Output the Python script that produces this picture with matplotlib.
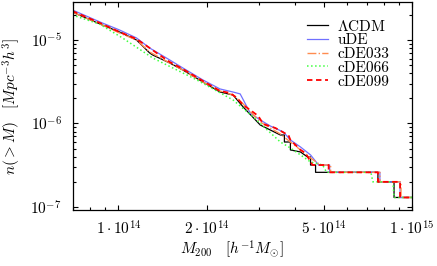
import matplotlib
matplotlib.use("Agg")
import matplotlib.pyplot as plt
from matplotlib.ticker import FixedLocator, NullFormatter

plt.rcParams['font.family'] = 'serif'
plt.rcParams['font.serif'] = ['cmr10', 'DejaVu Serif']
plt.rcParams['mathtext.fontset'] = 'cm'
plt.rcParams['axes.formatter.use_mathtext'] = True
plt.rcParams['font.size'] = 11

# ---- data ----
lcdm_M = [6.96e13, 8.81e13, 1.008e14, 1.152e14, 1.277e14, 1.308e14, 1.495e14, 1.657e14, 1.939e14,
          2.218e14, 2.457e14, 2.659e14, 3.04e14, 3.559e14, 3.674e14, 3.674e14, 3.851e14, 3.851e14,
          4.168e14, 4.404e14, 4.51e14, 4.51e14, 4.691e14, 4.691e14, 7.65e14, 7.65e14, 8.68e14,
          8.68e14, 1.0e15]
lcdm_n = [2.16e-5, 1.512e-5, 1.247e-5, 1.0e-5, 6.99e-6, 6.61e-6, 5.30e-6, 4.37e-6, 3.14e-6,
          2.38e-6, 2.19e-6, 1.576e-6, 9.59e-7, 7.28e-7, 7.28e-7, 6.0e-7, 6.0e-7, 4.82e-7,
          4.56e-7, 3.97e-7, 3.97e-7, 3.18e-7, 3.18e-7, 2.6e-7, 2.6e-7, 2.0e-7, 2.0e-7,
          1.3e-7, 1.3e-7]

ude_M = [6.96e13, 8.81e13, 1.008e14, 1.152e14, 1.277e14, 1.495e14, 1.657e14, 1.939e14, 2.218e14,
         2.457e14, 2.597e14, 2.81e14, 3.04e14, 3.289e14, 3.644e14, 3.851e14, 4.168e14, 4.51e14,
         4.803e14, 5.24e14, 5.24e14, 7.77e14, 7.77e14, 9.10e14, 9.10e14, 1.0e15]
ude_n = [2.29e-5, 1.598e-5, 1.318e-5, 1.057e-5, 8.02e-6, 5.76e-6, 4.62e-6, 3.32e-6, 2.59e-6,
         2.38e-6, 2.26e-6, 1.335e-6, 1.101e-6, 9.33e-7, 7.91e-7, 6.34e-7, 5.23e-7, 4.20e-7,
         3.18e-7, 3.18e-7, 2.6e-7, 2.6e-7, 2.0e-7, 2.0e-7, 1.3e-7, 1.3e-7]

cde033_M = [6.96e13, 8.81e13, 1.008e14, 1.152e14, 1.277e14, 1.495e14, 1.657e14, 1.939e14, 2.218e14,
            2.457e14, 2.659e14, 3.04e14, 3.559e14, 3.851e14, 4.168e14, 4.51e14, 4.88e14, 5.28e14,
            5.28e14, 7.77e14, 7.77e14, 9.17e14, 9.17e14, 1.0e15]
cde033_n = [2.16e-5, 1.512e-5, 1.213e-5, 1.0e-5, 7.18e-6, 5.30e-6, 4.37e-6, 3.14e-6, 2.45e-6,
            2.19e-6, 1.712e-6, 1.042e-6, 7.48e-7, 6.0e-7, 4.82e-7, 3.86e-7, 3.18e-7, 3.18e-7,
            2.6e-7, 2.6e-7, 2.0e-7, 2.0e-7, 1.3e-7, 1.3e-7]

cde066_M = [6.96e13, 8.61e13, 1.032e14, 1.308e14, 1.850e14, 2.457e14, 2.876e14, 3.213e14, 3.559e14,
            3.851e14, 4.168e14, 4.51e14, 4.957e14, 5.116e14, 7.24e14, 7.35e14, 8.605e14, 8.68e14,
            1.0e15]
cde066_n = [1.992e-5, 1.554e-5, 1.057e-5, 6.09e-6, 3.32e-6, 1.91e-6, 1.196e-6, 8.36e-7, 6.0e-7,
            5.09e-7, 4.20e-7, 3.46e-7, 3.18e-7, 2.6e-7, 2.6e-7, 2.0e-7, 2.0e-7, 1.3e-7,
            1.3e-7]

cde099_M = [6.96e13, 8.81e13, 1.008e14, 1.152e14, 1.277e14, 1.349e14, 1.495e14, 1.657e14, 1.939e14,
            2.218e14, 2.399e14, 2.536e14, 2.659e14, 2.81e14, 2.992e14, 3.113e14, 3.422e14, 3.674e14,
            3.791e14, 3.851e14, 4.168e14, 4.335e14, 4.581e14, 5.198e14, 5.198e14, 7.65e14, 7.65e14,
            9.10e14, 9.10e14, 1.0e15]
cde099_n = [2.225e-5, 1.554e-5, 1.247e-5, 1.028e-5, 8.02e-6, 6.99e-6, 5.45e-6, 4.49e-6, 3.23e-6,
            2.45e-6, 2.32e-6, 2.02e-6, 1.665e-6, 1.45e-6, 1.23e-6, 9.86e-7, 8.83e-7, 7.69e-7,
            7.28e-7, 6.34e-7, 4.82e-7, 4.43e-7, 3.18e-7, 3.18e-7, 2.6e-7, 2.6e-7, 2.0e-7,
            2.0e-7, 1.3e-7, 1.3e-7]

labels = [r'$\Lambda$CDM', 'uDE', 'cDE033', 'cDE066', 'cDE099']
xticks_major = [1e14, 2e14, 5e14, 1e15]
xtick_labels = [r'$1\cdot10^{14}$', r'$2\cdot10^{14}$', r'$5\cdot10^{14}$', r'$1\cdot10^{15}$']

fig = plt.figure(figsize=(4.37, 2.66), dpi=100)
ax = fig.add_axes([0.167, 0.2105, 0.776, 0.782])

ax.plot(lcdm_M, lcdm_n, color='black', lw=0.9, label=labels[0])
ax.plot(ude_M, ude_n, color='#7070ff', lw=0.9, label=labels[1])
ax.plot(cde033_M, cde033_n, color='#ff8c50', lw=1.0, ls='-.', label=labels[2])
ax.plot(cde066_M, cde066_n, color='#40ff40', lw=1.1, ls=':', label=labels[3])
ax.plot(cde099_M, cde099_n, color='#ff0000', lw=1.3, ls=(0, (3, 2)), label=labels[4])

ax.set_xscale('log')
ax.set_yscale('log')
ax.set_xlim(7e13, 1.0e15)
ax.set_ylim(9.2e-8, 2.85e-5)

ax.xaxis.set_major_locator(FixedLocator(xticks_major))
ax.set_xticklabels(xtick_labels)
minor = [m * 1e13 for m in (7, 8, 9)] + [m * 1e14 for m in (3, 4, 6, 7, 8, 9)]
ax.xaxis.set_minor_locator(FixedLocator(minor))
ax.xaxis.set_minor_formatter(NullFormatter())

ax.tick_params(which='both', direction='in', top=True, right=True, width=0.8)
ax.tick_params(which='major', length=3.5)
ax.tick_params(which='minor', length=2)
ax.tick_params(axis='x', which='major', pad=7)
ax.tick_params(axis='y', which='major', pad=8)
for s in ax.spines.values():
    s.set_linewidth(0.9)

ax.set_xlabel(r'$M_{200}\quad[h^{-1}M_{\odot}]$')
ax.set_ylabel(r'$n(>M)\quad[Mpc^{-3}h^{3}]$')
ax.xaxis.set_label_coords(0.469, -0.135)
ax.yaxis.set_label_coords(-0.148, 0.5)

ax.legend(loc='upper right', frameon=False, handlelength=1.4, handletextpad=0.6,
          labelspacing=0.0, bbox_to_anchor=(0.932, 0.92), borderaxespad=0, borderpad=0)

fig.savefig('out.png', dpi=100)
